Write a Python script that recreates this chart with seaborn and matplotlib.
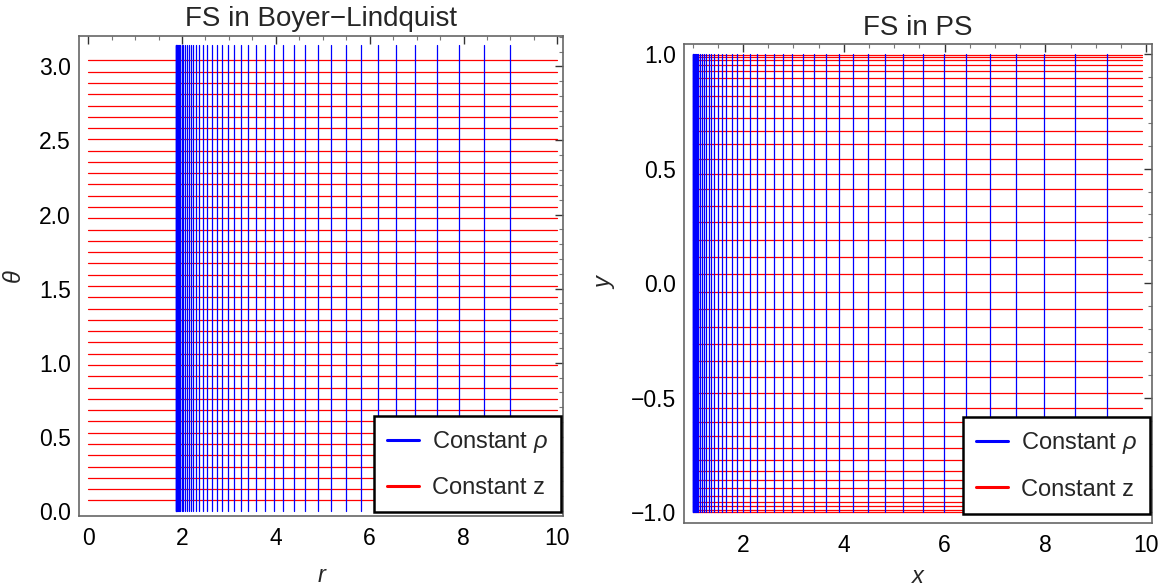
import numpy as np
import pandas as pd
import matplotlib
matplotlib.use("Agg")
import matplotlib.pyplot as plt
import seaborn as sns
from matplotlib.lines import Line2D
from matplotlib.ticker import MultipleLocator, FuncFormatter

# ---------------- data ----------------
# Left panel (Boyer-Lindquist): vertical lines at these r values
r_lines = [1.866, 1.870, 1.875, 1.880, 1.886, 1.893, 1.901, 1.909, 1.919, 1.929,
           1.940, 1.952, 1.964, 1.993, 2.028, 2.062, 2.102, 2.142, 2.187, 2.239,
           2.302, 2.371, 2.445, 2.538, 2.634, 2.737, 2.852, 2.978, 3.113, 3.260,
           3.416, 3.581, 3.763, 3.953, 4.161, 4.386, 4.629, 4.888, 5.174, 5.486,
           5.824, 6.179, 6.560, 6.975, 7.426, 7.911, 8.430, 8.993]
# Left panel: horizontal lines at these theta values
theta_lines = [0.072, 0.148, 0.224, 0.300, 0.376, 0.453, 0.529, 0.605, 0.681, 0.757,
               0.833, 0.909, 0.985, 1.061, 1.137, 1.213, 1.290, 1.366, 1.442, 1.518,
               1.594, 1.670, 1.746, 1.822, 1.898, 1.974, 2.050, 2.127, 2.203, 2.279,
               2.355, 2.431, 2.507, 2.583, 2.659, 2.735, 2.811, 2.888, 2.964, 3.040]
# Right panel (prolate spheroidal): vertical lines at these x values
x_lines = [1.000, 1.005, 1.010, 1.016, 1.023, 1.031, 1.040, 1.050, 1.061, 1.073,
           1.086, 1.099, 1.113, 1.147, 1.187, 1.226, 1.272, 1.319, 1.371, 1.431,
           1.504, 1.583, 1.669, 1.776, 1.887, 2.006, 2.139, 2.284, 2.440, 2.610,
           2.790, 2.980, 3.190, 3.410, 3.650, 3.910, 4.190, 4.490, 4.820, 5.180,
           5.570, 5.980, 6.420, 6.900, 7.420, 7.980, 8.580, 9.230]
# Right panel: horizontal lines at these y values
y_lines = [0.9971, 0.9883, 0.9737, 0.9533, 0.9276, 0.8963, 0.8597, 0.8180, 0.7716, 0.7205,
           0.6653, 0.6062, 0.5436, 0.4778, 0.4091, 0.3380, 0.2650, 0.1904, 0.1147, 0.0383,
           -0.0383, -0.1147, -0.1904, -0.2650, -0.3380, -0.4091, -0.4778, -0.5436, -0.6062, -0.6653,
           -0.7205, -0.7716, -0.8180, -0.8597, -0.8963, -0.9276, -0.9533, -0.9737, -0.9883, -0.9971]

theta_span = [0.0, 3.1416]
r_span = [0.0, 10.0]
y_span = [-1.0, 1.0]
x_span = [1.0, 9.92]

titles = ["FS in Boyer\u2212Lindquist", "FS in PS"]
xlabels = ["r", "x"]
ylabels = ["\u03b8", "y"]
legend_labels = ["Constant $\\rho$", "Constant z"]
BLUE = "#0000ff"
RED = "#ff0000"

# ---------------- styling ----------------
sns.set_theme(style="white")
plt.rcParams["font.family"] = ["Liberation Sans", "DejaVu Sans"]
plt.rcParams["mathtext.fontset"] = "custom"
plt.rcParams["mathtext.it"] = "Liberation Sans:italic"
plt.rcParams["mathtext.rm"] = "Liberation Sans"


def segments(vert_vals, vert_span, hor_vals, hor_span):
    rows = []
    for i, v in enumerate(vert_vals):
        for s in vert_span:
            rows.append({"a": v, "b": s, "uid": f"v{i}", "kind": "rho"})
    for j, h in enumerate(hor_vals):
        for s in hor_span:
            rows.append({"a": s, "b": h, "uid": f"h{j}", "kind": "z"})
    return pd.DataFrame(rows)


def fmt(spec):
    return FuncFormatter(lambda v, p: (spec % v).replace("-", "\u2212"))


fig = plt.figure(figsize=(11.64, 5.88), dpi=100)
ax1 = fig.add_axes([0.0681, 0.1224, 0.4156, 0.8164])
ax2 = fig.add_axes([0.5879, 0.1109, 0.4015, 0.8138])

panels = [
    (ax1, segments(r_lines, theta_span, theta_lines, r_span), (-0.19, 10.12), (-0.034, 3.205),
     "%d", "%.1f", (0.996, 0.008), 10),
    (ax2, segments(x_lines, y_span, y_lines, x_span), (0.835, 10.11), (-1.046, 1.043),
     "%d", "%.1f", (0.996, 0.019), 6),
]

for k, (ax, df, xl, yl, xfmt, yfmt, lanchor, xlp) in enumerate(panels):
    sns.lineplot(data=df[df["kind"] == "z"], x="a", y="b", units="uid", estimator=None,
                 color=RED, sort=False, legend=False, lw=0.9, ax=ax)
    sns.lineplot(data=df[df["kind"] == "rho"], x="a", y="b", units="uid", estimator=None,
                 color=BLUE, sort=False, legend=False, lw=0.9, ax=ax)
    ax.set_xlim(*xl)
    ax.set_ylim(*yl)
    ax.xaxis.set_major_locator(MultipleLocator(2))
    ax.xaxis.set_minor_locator(MultipleLocator(0.5))
    ax.yaxis.set_major_locator(MultipleLocator(0.5))
    ax.yaxis.set_minor_locator(MultipleLocator(0.1))
    ax.xaxis.set_major_formatter(fmt(xfmt))
    ax.yaxis.set_major_formatter(fmt(yfmt))
    ax.tick_params(which="both", direction="in", top=True, right=True,
                   labelsize=16.5, colors="#333333", labelcolor="black")
    ax.tick_params(axis="x", which="major", length=6, width=1.0, pad=8)
    ax.tick_params(axis="y", which="major", length=6, width=1.0, pad=6)
    ax.tick_params(which="minor", length=3.2, width=0.8, colors="#777777")
    for sp in ax.spines.values():
        sp.set_color("#666666")
        sp.set_linewidth(1.2)
    ax.set_title(titles[k], fontsize=20, pad=7)
    ax.set_xlabel(xlabels[k], fontsize=17, style="italic", labelpad=xlp)
    ax.set_ylabel(ylabels[k], fontsize=17, style="italic", labelpad=10)
    handles = [Line2D([], [], color=BLUE, lw=2.2), Line2D([], [], color=RED, lw=2.2)]
    leg = ax.legend(handles, legend_labels, loc="lower right", bbox_to_anchor=lanchor,
                    fontsize=17, frameon=True, fancybox=False, framealpha=1,
                    edgecolor="black", borderpad=0.55, labelspacing=0.95,
                    handlelength=1.35, handletextpad=0.55, borderaxespad=0.0)
    leg.get_frame().set_linewidth(1.8)

fig.savefig("out.png", dpi=100)
